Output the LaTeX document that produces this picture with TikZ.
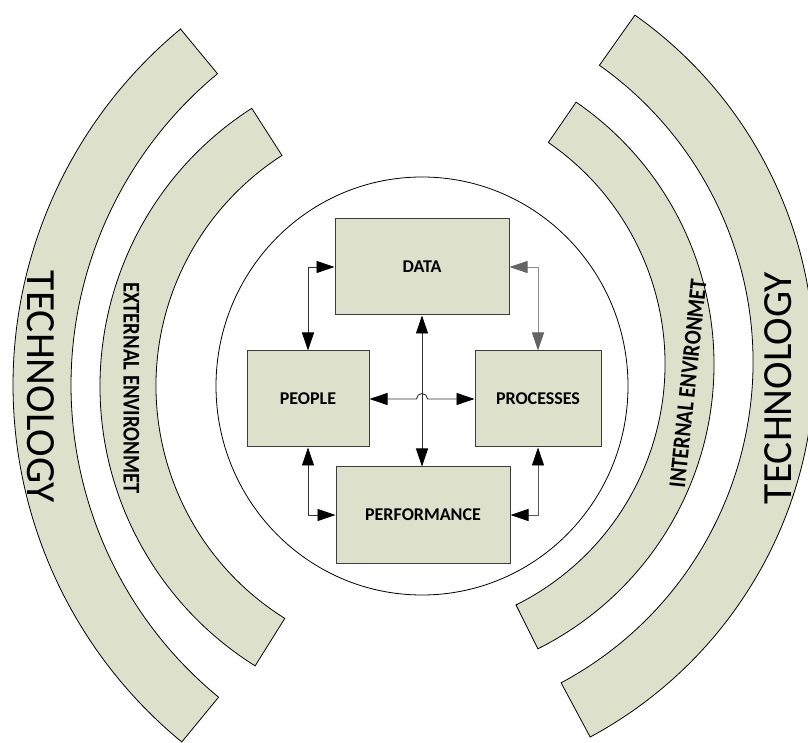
\documentclass[tikz,border=0pt]{standalone}
\usepackage{fontspec}
\setmainfont{Carlito}
\usetikzlibrary{arrows.meta}
\definecolor{bandfill}{RGB}{221,225,204}
\definecolor{boxline}{RGB}{60,60,60}
\definecolor{linegray}{RGB}{140,140,140}
\definecolor{arrowgray}{RGB}{100,100,100}
\begin{document}
\begin{tikzpicture}[x=1pt,y=1pt,
  band/.style={fill=bandfill, draw=black, line width=0.8pt},
  box/.style={draw=boxline, fill=bandfill, line width=1pt, minimum height=96pt,
    font=\fontsize{18}{20}\selectfont\bfseries, inner sep=0pt},
  link/.style={line width=0.9pt, draw=black!80,
    arrows={Triangle[length=18pt,width=12pt,color=black]-Triangle[length=18pt,width=12pt,color=black]}},
  graylink/.style={line width=0.9pt, draw=linegray,
    arrows={Triangle[length=18pt,width=12pt,color=arrowgray]-Triangle[length=18pt,width=12pt,color=arrowgray]}},
  bigtext/.style={font=\fontsize{41.5}{42}\selectfont, inner sep=0pt},
  bandtext/.style={font=\fontsize{24}{24}\selectfont\bfseries, inner sep=0pt}]
\useasboundingbox (0,0) rectangle (808,742);
\clip (0,0) rectangle (808,742);

% outer bands
\draw[band, shift={(475,357)}] (129.6:462) arc[start angle=129.6, end angle=230.6, radius=462]
  -- (230.6:404) arc[start angle=230.6, end angle=129.6, radius=404] -- cycle;
\draw[band, shift={(430,356)}] (122.7:330) arc[start angle=122.7, end angle=238, radius=330]
  -- (238:274) arc[start angle=238, end angle=122.7, radius=274] -- cycle;
\draw[band, shift={(389.2,379.8)}] (54.7:425.3) arc[start angle=54.7, end angle=-61.8, radius=425.3]
  -- (-61.8:363.8) arc[start angle=-61.8, end angle=54.7, radius=363.8] -- cycle;
\draw[band, shift={(396,377.8)}] (55.5:318) arc[start angle=55.5, end angle=-63.5, radius=318]
  -- (-63.5:269) arc[start angle=-63.5, end angle=55.5, radius=269] -- cycle;

% band labels
\node[bigtext, rotate=-90] (techL) at (41,355) {TECHNOLOGY};
\node[bigtext, rotate=90] (techR) at (778,354) {TECHNOLOGY};
\node[bandtext, rotate=-90] (ext) at (131.5,354) {\scalebox{0.86}[1]{EXTERNAL ENVIRONMET}};
\node[bandtext, rotate=84] (int) at (688,358.5) {\scalebox{0.86}[1]{INTERNAL ENVIRONMET}};

% central circle
\draw[line width=0.8pt] (422,356) ellipse [x radius=206, y radius=209];

% boxes
\node[box, minimum width=174pt] (data) at (422,475) {DATA};
\node[box, minimum width=122pt] (people) at (308,343) {PEOPLE};
\node[box, minimum width=126pt] (proc) at (538,343) {PROCESSES};
\node[box, minimum width=174pt] (perf) at (423,227) {PERFORMANCE};

% connectors
\draw[link] (data.west) -| (people.north);
\draw[graylink] (data.east) -| (proc.north);
\draw[link] (data.south) -- (data.south |- perf.north);
\coordinate (hopL) at (416.5,343);
\draw[link] (people.east) -- (hopL) arc[start angle=180, end angle=0, radius=5.5] -- (proc.west);
\draw[link] (people.south) |- (perf.west);
\draw[link, draw=black!65] (proc.south) |- (perf.east);
\end{tikzpicture}
\end{document}
